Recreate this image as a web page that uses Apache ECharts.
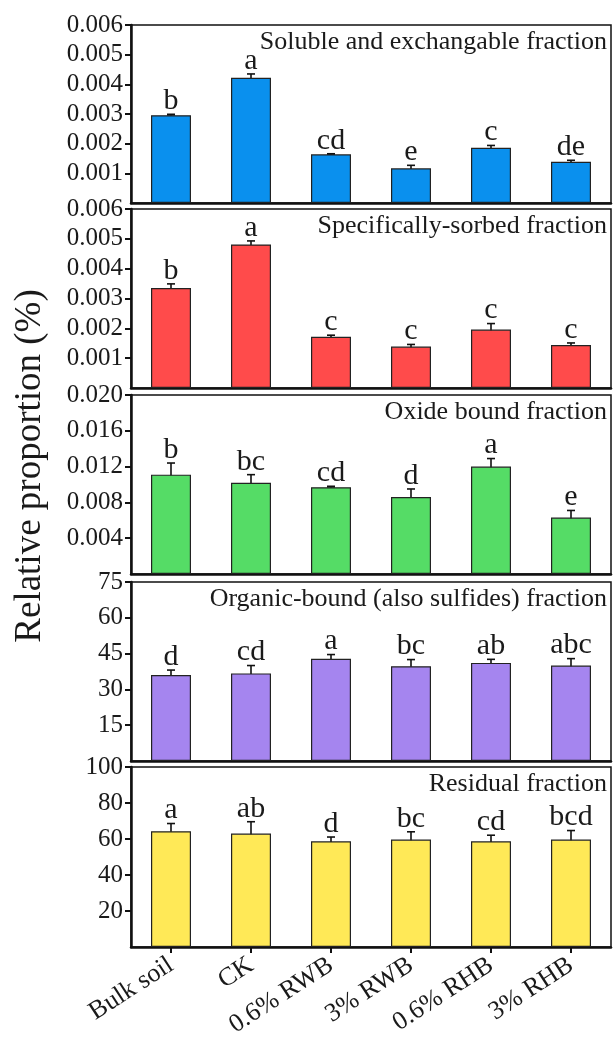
<!DOCTYPE html>
<html>
<head>
<meta charset="utf-8">
<script src="https://cdn.jsdelivr.net/npm/echarts@6/dist/echarts.min.js"></script>
<style>
html,body{margin:0;padding:0;background:#fff;}
#c{width:613px;height:1044px;}
</style>
</head>
<body>
<div id="c"></div>
<script>
var categories = ['Bulk soil', 'CK', '0.6% RWB', '3% RWB', '0.6% RHB', '3% RHB'];

var solubleTitle = 'Soluble and exchangable fraction';
var soluble = [0.00296, 0.00422, 0.00164, 0.00117, 0.00186, 0.00139];
var solubleErr = [0.00003, 0.00013, 0.00002, 0.00010, 0.00008, 0.00005];
var solubleLetters = ['b', 'a', 'cd', 'e', 'c', 'de'];

var sorbedTitle = 'Specifically-sorbed fraction';
var sorbed = [0.00335, 0.00481, 0.00172, 0.00139, 0.00196, 0.00144];
var sorbedErr = [0.00014, 0.00012, 0.00005, 0.00007, 0.00020, 0.00007];
var sorbedLetters = ['b', 'a', 'c', 'c', 'c', 'c'];

var oxideTitle = 'Oxide bound fraction';
var oxide = [0.0111, 0.0102, 0.0097, 0.0086, 0.0120, 0.0063];
var oxideErr = [0.0013, 0.0009, 0.0001, 0.0009, 0.0009, 0.0008];
var oxideLetters = ['b', 'bc', 'cd', 'd', 'a', 'e'];

var organicTitle = 'Organic-bound (also sulfides) fraction';
var organic = [36.0, 36.7, 42.8, 39.7, 41.1, 40.0];
var organicErr = [2.1, 3.3, 1.8, 2.8, 1.5, 2.9];
var organicLetters = ['d', 'cd', 'a', 'bc', 'ab', 'abc'];

var residualTitle = 'Residual fraction';
var residual = [64.3, 63.0, 58.7, 59.7, 58.7, 59.7];
var residualErr = [4.3, 6.6, 2.4, 4.3, 3.4, 5.0];
var residualLetters = ['a', 'ab', 'd', 'bc', 'cd', 'bcd'];

var yMax = [0.006, 0.006, 0.020, 75, 100];
var yInterval = [0.001, 0.001, 0.004, 15, 20];
var yTickDecimals = [3, 3, 3, 0, 0];
var yAxisName = 'Relative proportion (%)';

var panels = [
  {title: solubleTitle, values: soluble, err: solubleErr, letters: solubleLetters, color: '#0a90ee'},
  {title: sorbedTitle, values: sorbed, err: sorbedErr, letters: sorbedLetters, color: '#ff4b4b'},
  {title: oxideTitle, values: oxide, err: oxideErr, letters: oxideLetters, color: '#55dc66'},
  {title: organicTitle, values: organic, err: organicErr, letters: organicLetters, color: '#a585ef'},
  {title: residualTitle, values: residual, err: residualErr, letters: residualLetters, color: '#ffe957'}
];

var FONT = '"Liberation Serif", "Times New Roman", serif';
var TXT = '#1a1a1a';
var gridTops = [25, 209, 395, 582, 767];
var gridH = [178, 179, 179, 179, 180];
var LEFT = 131, RIGHT = 2;

var grids = [], xAxes = [], yAxes = [], series = [], titles = [];
panels.forEach(function (p, k) {
  var last = k === panels.length - 1;
  grids.push({left: LEFT, right: RIGHT, top: gridTops[k], height: gridH[k], show: true,
    borderColor: '#111', borderWidth: 1.5, backgroundColor: 'transparent'});
  xAxes.push({type: 'category', gridIndex: k, data: categories,
    axisLine: {show: true, lineStyle: {color: '#111', width: 2.5}},
    axisTick: {show: last, alignWithLabel: true, length: 6, lineStyle: {color: '#111', width: 2}},
    axisLabel: last ? {show: true, rotate: 33, fontFamily: FONT, fontSize: 26, color: TXT, margin: 16, interval: 0} : {show: false},
    splitLine: {show: false}});
  var dec = yTickDecimals[k];
  yAxes.push({type: 'value', gridIndex: k, min: 0, max: yMax[k], interval: yInterval[k],
    axisLine: {show: true, lineStyle: {color: '#111', width: 2.5}},
    axisTick: {show: true, length: 6, lineStyle: {color: '#111', width: 2}},
    axisLabel: {show: true, showMinLabel: false, fontFamily: FONT, fontSize: 25, color: TXT, margin: 8,
      formatter: function (v) { return v.toFixed(dec); }},
    splitLine: {show: false}});
  titles.push({text: p.title, right: 6, top: gridTops[k] + 4, padding: 0,
    textStyle: {fontFamily: FONT, fontSize: 26, fontWeight: 'normal', color: TXT}});
  series.push({type: 'bar', xAxisIndex: k, yAxisIndex: k, data: p.values, barWidth: '50%',
    itemStyle: {color: p.color, borderColor: '#222', borderWidth: 1.2}, silent: true, animation: false});
  var errData = p.values.map(function (v, i) { return [i, v, p.err[i]]; });
  (function (letters) {
    series.push({type: 'custom', xAxisIndex: k, yAxisIndex: k, data: errData, animation: false, silent: true,
      renderItem: function (params, api) {
        var i = api.value(0), v = api.value(1), e = api.value(2);
        var hi = api.coord([i, v + e]);
        var lo = api.coord([i, v - e]);
        var cw = 4;
        var ls = {stroke: '#111', lineWidth: 1.6};
        return {type: 'group', children: [
          {type: 'line', shape: {x1: hi[0], y1: hi[1], x2: lo[0], y2: lo[1]}, style: ls},
          {type: 'line', shape: {x1: hi[0] - cw, y1: hi[1], x2: hi[0] + cw, y2: hi[1]}, style: ls},
          {type: 'line', shape: {x1: lo[0] - cw, y1: lo[1], x2: lo[0] + cw, y2: lo[1]}, style: ls},
          {type: 'text', x: hi[0], y: hi[1] + 2, style: {text: letters[params.dataIndex], fontFamily: FONT,
            fontSize: 30, fill: TXT, align: 'center', verticalAlign: 'bottom'}}
        ]};
      }});
  })(p.letters);
});

var chart = echarts.init(document.getElementById('c'), null, {renderer: 'canvas'});
chart.setOption({
  animation: false,
  backgroundColor: '#fff',
  title: titles,
  grid: grids,
  xAxis: xAxes,
  yAxis: yAxes,
  series: series,
  graphic: [{type: 'text', x: 30, y: 466, rotation: Math.PI / 2,
    style: {text: yAxisName, fontFamily: FONT, fontSize: 37, fill: TXT, align: 'center', verticalAlign: 'middle'}}]
});
</script>
</body>
</html>
